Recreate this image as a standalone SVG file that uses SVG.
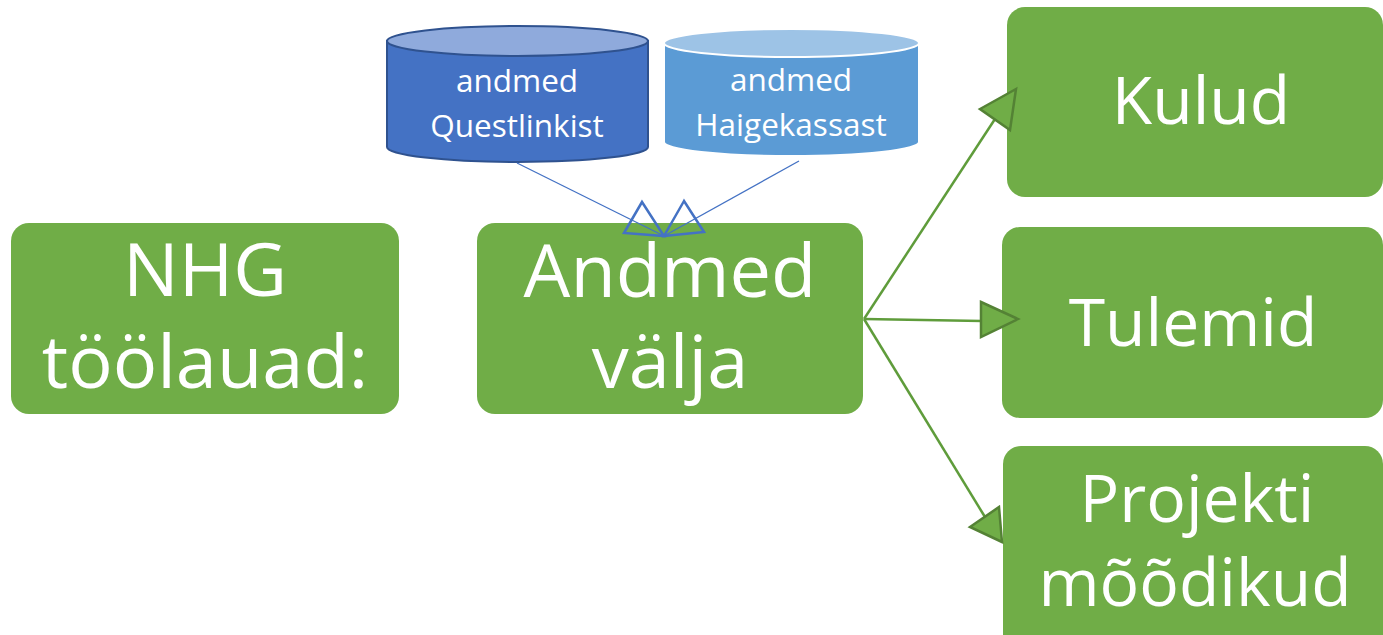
<svg xmlns="http://www.w3.org/2000/svg" width="1383" height="635" viewBox="0 0 1383 635">
<style>
.box{fill:#70AD47;}
.big{font-family:"Open Sans","Noto Sans",sans-serif;font-size:74px;fill:#fff;text-anchor:middle;}
.mid{font-family:"Open Sans","Noto Sans",sans-serif;font-size:66px;fill:#fff;text-anchor:middle;}
.small{font-family:"Open Sans","Noto Sans",sans-serif;font-size:31.5px;fill:#fff;text-anchor:middle;}
.gl{stroke:#5F9C3B;stroke-width:2.5;fill:none;}
.gh{fill:#70AD47;stroke:#548235;stroke-width:2.5;stroke-linejoin:miter;}
.bl{stroke:#4472C4;stroke-width:1.3;fill:none;}
.bh{fill:none;stroke:#4472C4;stroke-width:2.5;stroke-linejoin:miter;}
</style>
<rect width="1383" height="635" fill="#fff"/>
<g id="nhg">
<rect class="box" x="11" y="223" width="388" height="191" rx="18"/>
<text class="big" x="205" y="296">NHG</text>
<text class="big" x="205" y="388">töölauad:</text>
</g>
<g id="andmed-valja">
<rect class="box" x="477" y="223" width="386" height="191" rx="18"/>
<text class="big" x="670" y="297">Andmed</text>
<text class="big" x="670" y="388">välja</text>
</g>
<g id="kulud">
<rect class="box" x="1007" y="7" width="376" height="190" rx="18"/>
<text class="mid" x="1201" y="124">Kulud</text>
</g>
<g id="tulemid">
<rect class="box" x="1002" y="227" width="381" height="191" rx="18"/>
<text class="mid" x="1193" y="346">Tulemid</text>
</g>
<g id="projekti">
<rect class="box" x="1003" y="446" width="380" height="210" rx="18"/>
<text class="mid" x="1197" y="522">Projekti</text>
<text class="mid" x="1195" y="606">mõõdikud</text>
</g>
<g id="questlink">
<path d="M387,41 V147 A130.5,15 0 0 0 648,147 V41 Z" fill="#4472C4" stroke="#2F528F" stroke-width="2"/>
<ellipse cx="517.5" cy="41" rx="130.5" ry="15" fill="#8FAADC" stroke="#2F528F" stroke-width="2"/>
<text class="small" x="517" y="92">andmed</text>
<text class="small" x="517" y="137">Questlinkist</text>
</g>
<g id="haigekassa">
<path d="M664,43 V142 A127.5,14 0 0 0 919,142 V43 Z" fill="#5B9BD5" stroke="#fff" stroke-width="2"/>
<ellipse cx="791.5" cy="43" rx="127.5" ry="14" fill="#9DC3E6" stroke="#fff" stroke-width="2"/>
<text class="small" x="791" y="91">andmed</text>
<text class="small" x="791" y="136">Haigekassast</text>
</g>
<g id="connectors">
<line class="bl" x1="517" y1="163" x2="664" y2="236"/>
<line class="bl" x1="799" y1="161" x2="664" y2="236"/>
<polygon class="bh" points="642,202 624,233 664,236"/>
<polygon class="bh" points="684,201 664,236 704,232"/>
<line class="gl" x1="864" y1="319" x2="995" y2="119"/>
<line class="gl" x1="864" y1="319" x2="982" y2="321"/>
<line class="gl" x1="864" y1="319" x2="985" y2="517"/>
<polygon class="gh" points="1016,89 980,109 1010,130"/>
<polygon class="gh" points="981,302 1018,319 981,337"/>
<polygon class="gh" points="1002,542 970,527 999,507"/>
</g>
</svg>
